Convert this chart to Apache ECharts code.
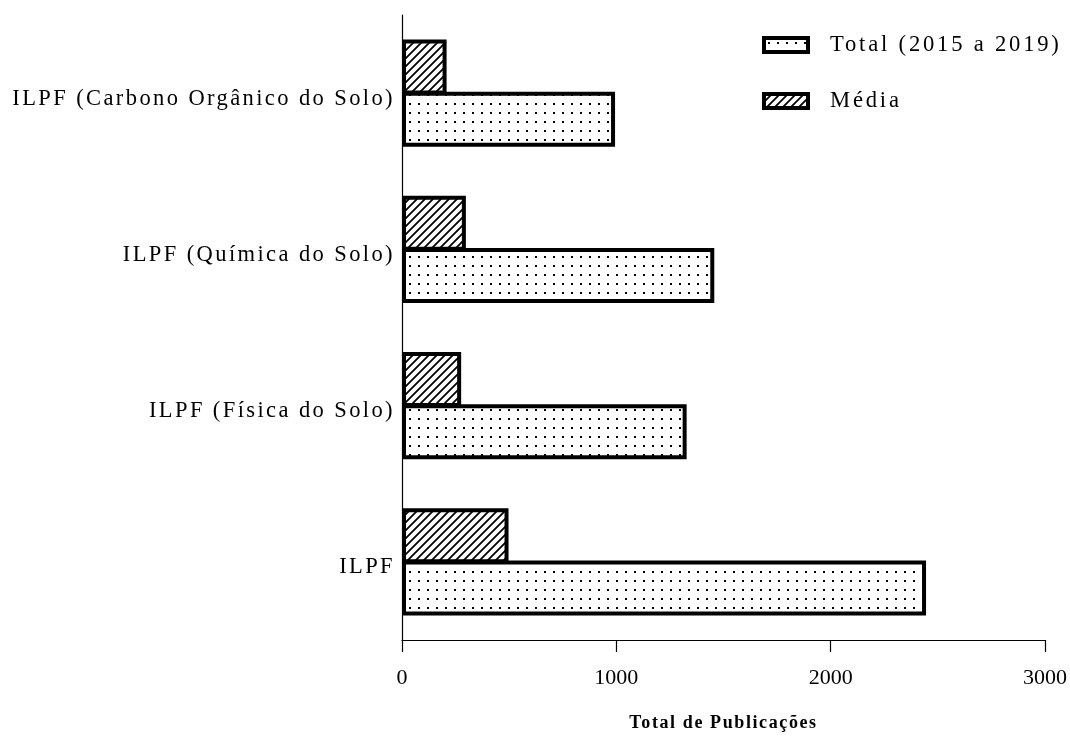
<!DOCTYPE html>
<html>
<head>
<meta charset="utf-8">
<script src="https://cdn.jsdelivr.net/npm/echarts@6/dist/echarts.min.js"></script>
<style>
  html, body { margin: 0; padding: 0; background: #fff; }
  #chart { width: 1070px; height: 742px; }
</style>
</head>
<body>
<div id="chart"></div>
<script>
// Categories, bottom to top
const categories = [
  'ILPF',
  'ILPF (Física do Solo)',
  'ILPF (Química do Solo)',
  'ILPF (Carbono Orgânico do Solo)'
];
const totalValues = [2445, 1328, 1457, 994];
const mediaValues = [497, 276, 298, 208];
const seriesNames = ['Total (2015 a 2019)', 'Média'];
const xTicks = [0, 1000, 2000, 3000];

const FONT = "'Liberation Serif', 'Times New Roman', serif";

// Wider tracking for category labels (22.5px), legend (22.6px) and the bold axis title (18px)
(function () {
  const proto = CanvasRenderingContext2D.prototype;
  if (!('letterSpacing' in proto)) return;
  const fill = proto.fillText;
  proto.fillText = function (text, x, y, maxWidth) {
    const f = this.font;
    if (/22\.5px/.test(f)) this.letterSpacing = '2.4px';
    else if (/22\.6px/.test(f)) this.letterSpacing = '2.8px';
    else if (/\b18px/.test(f)) this.letterSpacing = '1.6px';
    else this.letterSpacing = '0px';
    return maxWidth === undefined ? fill.call(this, text, x, y) : fill.call(this, text, x, y, maxWidth);
  };
})();

// Dotted fill
function dotPattern() {
  const c = document.createElement('canvas');
  c.width = 9; c.height = 9;
  const g = c.getContext('2d');
  g.fillStyle = '#fff';
  g.fillRect(0, 0, 9, 9);
  g.fillStyle = '#000';
  g.fillRect(4, 4, 2, 2);
  return c;
}

// Diagonal hatch fill
function hatchPattern() {
  const s = 8;
  const c = document.createElement('canvas');
  c.width = s; c.height = s;
  const g = c.getContext('2d');
  g.fillStyle = '#fff';
  g.fillRect(0, 0, s, s);
  g.strokeStyle = '#000';
  g.lineWidth = 1.8;
  g.beginPath();
  g.moveTo(-1, s + 1); g.lineTo(s + 1, -1);
  g.moveTo(-1, 1); g.lineTo(1, -1);
  g.moveTo(s - 1, s + 1); g.lineTo(s + 1, s - 1);
  g.stroke();
  return c;
}

const chart = echarts.init(document.getElementById('chart'), null, { renderer: 'canvas' });

chart.setOption({
  backgroundColor: '#fff',
  animation: false,
  grid: { left: 402, right: 25, top: 15, bottom: 102, containLabel: false },
  legend: {
    orient: 'vertical',
    left: 762,
    top: 33,
    padding: 0,
    itemWidth: 44,
    itemHeight: 14,
    itemGap: 32,
    icon: 'rect',
    data: seriesNames,
    itemStyle: { borderWidth: 4, borderColor: '#000' },
    textStyle: { fontFamily: FONT, fontSize: 22.6, color: '#000', lineHeight: 24, padding: [0, 0, 0, 17] }
  },
  xAxis: {
    type: 'value',
    min: xTicks[0],
    max: xTicks[xTicks.length - 1],
    interval: xTicks[1] - xTicks[0],
    splitLine: { show: false },
    axisLine: { show: true, lineStyle: { color: '#000', width: 1.2 } },
    axisTick: { show: true, length: 12, lineStyle: { color: '#000', width: 1.2 } },
    axisLabel: { fontFamily: FONT, fontSize: 22, color: '#000', margin: 27, formatter: (v) => String(v) },
    name: 'Total de Publicações',
    nameLocation: 'middle',
    nameGap: 74,
    nameTextStyle: { fontFamily: FONT, fontSize: 18, fontWeight: 'bold', color: '#000' }
  },
  yAxis: {
    type: 'category',
    data: categories,
    axisLine: { show: true, lineStyle: { color: '#000', width: 1.2 } },
    axisTick: { show: false },
    splitLine: { show: false },
    axisLabel: { fontFamily: FONT, fontSize: 22.5, color: '#000', margin: 7, verticalAlign: 'top', lineHeight: 11 }
  },
  series: [
    // Média listed first so its bar sits above the total bar in each group
    {
      name: seriesNames[1],
      type: 'bar',
      data: mediaValues,
      barWidth: 55,
      barGap: '-5%',
      itemStyle: { color: { image: hatchPattern(), repeat: 'repeat' }, borderColor: '#000', borderWidth: 4 }
    },
    {
      name: seriesNames[0],
      type: 'bar',
      data: totalValues,
      barWidth: 55,
      barGap: '-5%',
      itemStyle: { color: { image: dotPattern(), repeat: 'repeat' }, borderColor: '#000', borderWidth: 4 }
    }
  ]
});
</script>
</body>
</html>
